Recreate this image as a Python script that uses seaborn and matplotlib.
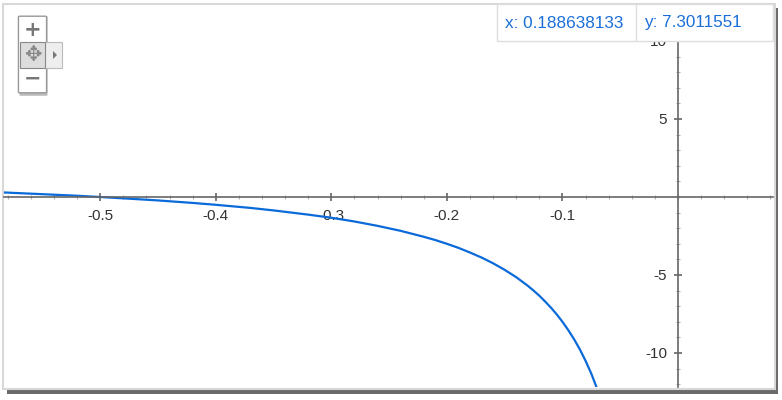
import matplotlib
matplotlib.use("Agg")
import matplotlib.pyplot as plt
from matplotlib.patches import Rectangle, FancyBboxPatch, Polygon
import seaborn as sns
import pandas as pd
import numpy as np

# points
x_vals = [-0.59, -0.58, -0.55, -0.52, -0.50, -0.47, -0.45, -0.42, -0.40, -0.37,
          -0.35, -0.32, -0.30, -0.28, -0.26, -0.24, -0.22, -0.21, -0.20, -0.19,
          -0.18, -0.17, -0.16, -0.15, -0.14, -0.13, -0.125, -0.12, -0.115,
          -0.11, -0.105, -0.10, -0.095, -0.09, -0.085, -0.08, -0.075, -0.07,
          -0.066]
y_vals = [0.31, 0.28, 0.18, 0.08, 0.0, -0.13, -0.22, -0.38, -0.50, -0.70,
          -0.86, -1.13, -1.33, -1.57, -1.85, -2.17, -2.55, -2.76, -3.0, -3.26,
          -3.56, -3.88, -4.25, -4.67, -5.14, -5.69, -6.0, -6.33, -6.70,
          -7.09, -7.52, -8.0, -8.53, -9.11, -9.76, -10.5, -11.33, -12.29,
          -13.15]

x_ticks = [-0.5, -0.4, -0.3, -0.2, -0.1]
y_ticks = [-10, -5, 5, 10]
readout_x = "x: 0.188638133"
readout_y = "y: 7.3011551"

W, H = 782, 400
sns.set_theme(style="white")
plt.rcParams['font.family'] = ['Liberation Sans', 'DejaVu Sans']

fig = plt.figure(figsize=(W / 100, H / 100), dpi=100)
fig.patch.set_facecolor("white")


def fx(px):
    return px / W


def fy(py):
    return 1 - py / H


# frame shadow + frame
fig.add_artist(Rectangle((fx(7), fy(394)), fx(772) - fx(1), fy(8) - fy(394),
                         transform=fig.transFigure, facecolor="#6a6a6a",
                         edgecolor="none", zorder=1))
fig.add_artist(Rectangle((fx(3), fy(389)), fx(772), fy(4) - fy(389),
                         transform=fig.transFigure, facecolor="white",
                         edgecolor="#d8d8d8", linewidth=1.5, zorder=1))

ax = fig.add_axes([fx(4), fy(387), fx(773) - fx(4), fy(5) - fy(387)])
ax.set_zorder(2)
ax.patch.set_alpha(0)

df = pd.DataFrame({"x": x_vals, "y": y_vals})
sns.lineplot(data=df, x="x", y="y", ax=ax, color="#0a6ad9", linewidth=1.6,
             sort=False, estimator=None)

ax.set_xlim((4 - 678) / 1155.5, (773 - 678) / 1155.5)
ax.set_ylim((197 - 387) / 15.6, (197 - 5) / 15.6)

for s in ["top", "right"]:
    ax.spines[s].set_visible(False)
for s in ["left", "bottom"]:
    ax.spines[s].set_position("zero")
    ax.spines[s].set_color("#666666")
    ax.spines[s].set_linewidth(1.2)

ax.set_xticks(x_ticks)
ax.set_xticklabels([f"{v:.1f}" for v in x_ticks])
ax.set_xticks(np.arange(-0.58, 0.09, 0.02), minor=True)
ax.set_yticks(y_ticks)
ax.set_yticklabels([str(v) for v in y_ticks])
ax.set_yticks(np.arange(-12, 13, 1), minor=True)

ax.tick_params(bottom=True, left=True, which="both")
ax.tick_params(which="major", direction="inout", length=5.5, width=1.2,
               color="#666666", labelsize=11, labelcolor="#333333", pad=5)
ax.tick_params(which="minor", direction="inout", length=3.5, width=0.8,
               color="#b0b0b0")
ax.tick_params(axis="x", which="major", pad=6)
ax.set_xlabel("")
ax.set_ylabel("")
ax.grid(False)

# readout box
fig.add_artist(Rectangle((fx(497), fy(41)), fx(773) - fx(497), fy(4) - fy(41),
                         transform=fig.transFigure, facecolor="white",
                         edgecolor="#dddddd", linewidth=1, zorder=5))
fig.add_artist(plt.Line2D([fx(636), fx(636)], [fy(4), fy(41)],
                          transform=fig.transFigure, color="#dddddd",
                          linewidth=1, zorder=6))
fig.text(fx(505), fy(23), readout_x, color="#1a6fd8", fontsize=12.3,
         va="center", ha="left", zorder=7)
fig.text(fx(644), fy(23), readout_y, color="#1a6fd8", fontsize=12.3,
         va="center", ha="left", zorder=7)

# zoom / pan control
fig.add_artist(FancyBboxPatch((fx(21), fy(95)), fx(25), fy(17) - fy(95),
                              boxstyle="round,pad=0.002",
                              transform=fig.transFigure, facecolor="#bbbbbb",
                              edgecolor="none", zorder=5))
fig.add_artist(FancyBboxPatch((fx(20), fy(92)), fx(25), fy(17) - fy(92),
                              boxstyle="round,pad=0.002",
                              transform=fig.transFigure, facecolor="white",
                              edgecolor="#999999", linewidth=1, zorder=6))
fig.add_artist(Rectangle((fx(45), fy(68)), fx(17), fy(42) - fy(68),
                         transform=fig.transFigure, facecolor="#eeeeee",
                         edgecolor="#bbbbbb", linewidth=0.8, zorder=6))
fig.add_artist(Rectangle((fx(20), fy(68)), fx(25), fy(42) - fy(68),
                         transform=fig.transFigure, facecolor="#dddddd",
                         edgecolor="#888888", linewidth=0.8, zorder=7))
fig.add_artist(Polygon([[fx(53), fy(51)], [fx(53), fy(59)], [fx(57), fy(55)]],
                       closed=True, transform=fig.transFigure,
                       facecolor="#777777", edgecolor="none", zorder=8))
fig.text(fx(32.5), fy(30), "+", color="#777777", fontsize=15,
         fontweight="bold", ha="center", va="center", zorder=8,
         family=["DejaVu Sans"])
fig.text(fx(32.5), fy(79), "\u2212", color="#777777", fontsize=15,
         fontweight="bold", ha="center", va="center", zorder=8,
         family=["DejaVu Sans"])
fig.text(fx(32.5), fy(55), "\u2725", color="#888888", fontsize=15,
         ha="center", va="center", zorder=8, family=["DejaVu Sans"])

fig.savefig("out.png", dpi=100)
